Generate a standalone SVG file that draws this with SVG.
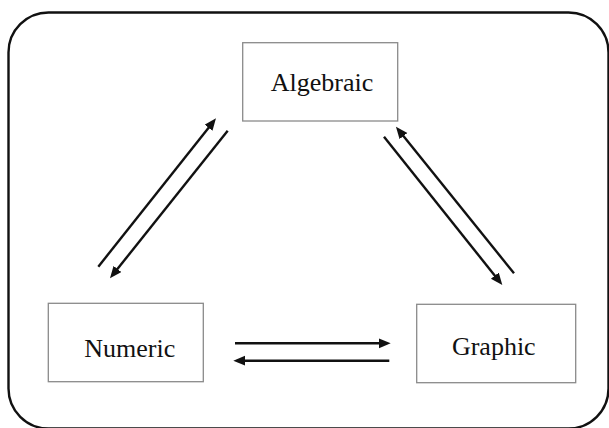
<svg xmlns="http://www.w3.org/2000/svg" width="609" height="428" viewBox="0 0 609 428">
<style>
.box{fill:#fff;stroke:#8a8a8a;stroke-width:1.3}
.lbl{font-family:"Liberation Serif","Times New Roman",serif;font-size:26px;fill:#111;text-anchor:middle}
.arr{stroke:#111;stroke-width:2.4;fill:none;marker-end:url(#ah)}
</style>
<defs>
<marker id="ah" markerUnits="userSpaceOnUse" markerWidth="13" markerHeight="11" refX="3" refY="5" orient="auto">
<path d="M0,0 L12,5 L0,10 z" fill="#111"/>
</marker>
</defs>
<rect width="609" height="428" fill="#fff"/>
<rect x="8.5" y="12.5" width="600" height="416" rx="40" ry="40" fill="none" stroke="#111" stroke-width="2.4"/>
<g id="algebraic">
<rect class="box" x="242.7" y="42.7" width="155" height="78.3"/>
<text class="lbl" x="322" y="90.7">Algebraic</text>
</g>
<g id="numeric">
<rect class="box" x="48.3" y="303.3" width="155" height="78.4"/>
<text class="lbl" x="129.7" y="356.7">Numeric</text>
</g>
<g id="graphic">
<rect class="box" x="416.7" y="304.3" width="159" height="78.4"/>
<text class="lbl" x="493.8" y="355">Graphic</text>
</g>
<g id="connectors">
<line class="arr" x1="98.3" y1="266.7" x2="210.4" y2="125.4"/>
<line class="arr" x1="227.7" y1="130.7" x2="115.6" y2="271.3"/>
<line class="arr" x1="514" y1="273.3" x2="401.6" y2="133.7"/>
<line class="arr" x1="384" y1="136.7" x2="496.7" y2="278"/>
<line class="arr" x1="235" y1="343.3" x2="381.7" y2="343.3"/>
<line class="arr" x1="389.3" y1="360.7" x2="242.3" y2="360.7"/>
</g>
</svg>
